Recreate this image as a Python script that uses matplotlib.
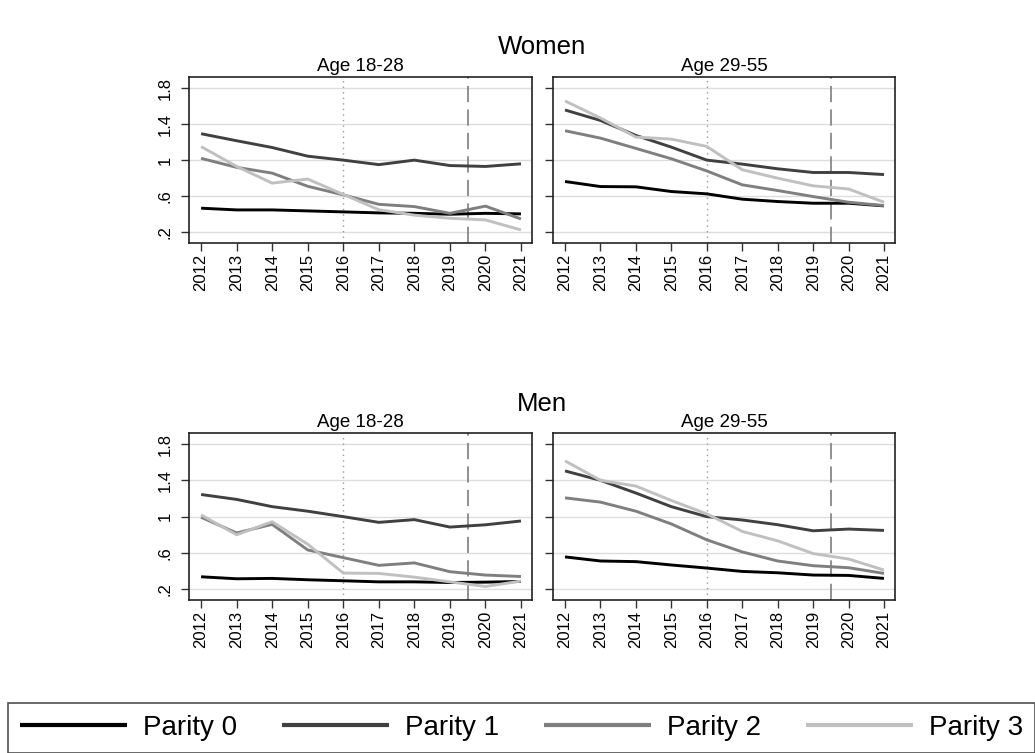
import matplotlib
matplotlib.use("Agg")
import matplotlib.pyplot as plt
import numpy as np

plt.rcParams['font.family'] = ['Liberation Sans', 'DejaVu Sans']

years = np.arange(2012, 2022)
parities = ['Parity 0', 'Parity 1', 'Parity 2', 'Parity 3']
colors = ['#000000', '#404040', '#7f7f7f', '#c0c0c0']

# women, age 18-28
w_young = [
    [0.467, 0.448, 0.448, 0.437, 0.426, 0.415, 0.410, 0.400, 0.410, 0.404],
    [1.293, 1.215, 1.140, 1.044, 1.000, 0.950, 1.000, 0.940, 0.930, 0.959],
    [1.020, 0.920, 0.856, 0.710, 0.615, 0.510, 0.485, 0.410, 0.490, 0.348],
    [1.150, 0.930, 0.745, 0.790, 0.620, 0.450, 0.390, 0.355, 0.337, 0.226],
]
# women, age 29-55
w_old = [
    [0.763, 0.707, 0.704, 0.652, 0.626, 0.567, 0.541, 0.522, 0.522, 0.493],
    [1.556, 1.440, 1.274, 1.144, 1.000, 0.956, 0.904, 0.863, 0.863, 0.840],
    [1.326, 1.244, 1.130, 1.015, 0.880, 0.726, 0.663, 0.596, 0.533, 0.496],
    [1.656, 1.467, 1.256, 1.233, 1.152, 0.893, 0.800, 0.715, 0.680, 0.533],
]
# men, age 18-28
m_young = [
    [0.337, 0.315, 0.319, 0.304, 0.293, 0.281, 0.281, 0.274, 0.278, 0.285],
    [1.244, 1.190, 1.110, 1.060, 1.000, 0.937, 0.967, 0.885, 0.910, 0.952],
    [0.993, 0.820, 0.915, 0.633, 0.548, 0.463, 0.490, 0.393, 0.356, 0.340],
    [1.019, 0.800, 0.944, 0.696, 0.378, 0.374, 0.333, 0.281, 0.230, 0.290],
]
# men, age 29-55
m_old = [
    [0.556, 0.511, 0.504, 0.467, 0.433, 0.396, 0.381, 0.356, 0.352, 0.319],
    [1.504, 1.400, 1.260, 1.110, 1.000, 0.963, 0.911, 0.844, 0.863, 0.848],
    [1.207, 1.160, 1.060, 0.919, 0.744, 0.611, 0.511, 0.459, 0.437, 0.374],
    [1.615, 1.400, 1.337, 1.178, 1.030, 0.837, 0.733, 0.593, 0.533, 0.411],
]

yticks = [0.2, 0.6, 1.0, 1.4, 1.8]
ytick_labels = ['.2', '.6', '1', '1.4', '1.8']

W, H = 1035, 753
fig = plt.figure(figsize=(W / 100, H / 100), dpi=100)


def px_axes(x0, y0, x1, y1):
    # pixel box (top-left origin) -> figure axes
    return fig.add_axes([x0 / W, 1 - y1 / H, (x1 - x0) / W, (y1 - y0) / H])


def panel(ax, data, title, show_ylabels):
    for vals, c in zip(data, colors):
        ax.plot(years, vals, color=c, lw=2.1, solid_capstyle='butt', zorder=3)
    for yt in yticks:
        ax.axhline(yt, color='#dddddd', lw=1.0, zorder=1)
    ax.axvline(2016, color='#999999', lw=1.0, ls=(0, (1, 3)), zorder=2)
    ax.axvline(2019.5, color='#888888', lw=1.3, ls=(0, (9, 4)), zorder=2)
    ax.set_xlim(2011.66, 2021.31)
    ax.set_ylim(0.081, 1.922)
    ax.set_xticks(years)
    ax.set_xticklabels([str(y) for y in years], rotation=90, fontsize=12)
    ax.set_yticks(yticks)
    if show_ylabels:
        ax.set_yticklabels(ytick_labels, rotation=90, va='center', fontsize=12)
    else:
        ax.set_yticklabels([])
    ax.tick_params(axis='x', length=6, width=1, color='#333333', pad=2)
    ax.tick_params(axis='y', length=6, width=1, color='#333333', pad=6)
    for s in ax.spines.values():
        s.set_linewidth(1.2)
        s.set_color('#222222')
    ax.set_title(title, fontsize=13.5, pad=4)
    return ax


a1 = panel(px_axes(189, 77, 532, 243), w_young, 'Age 18-28', True)
a2 = panel(px_axes(553, 77, 895, 243), w_old, 'Age 29-55', False)
a3 = panel(px_axes(189, 433, 532, 600), m_young, 'Age 18-28', True)
a4 = panel(px_axes(553, 433, 895, 600), m_old, 'Age 29-55', False)

fig.text(542 / W, 1 - 47 / H, 'Women', ha='center', va='center', fontsize=18.5)
fig.text(542 / W, 1 - 404 / H, 'Men', ha='center', va='center', fontsize=18.5)

handles = a1.get_lines()[:4]
leg = fig.legend(handles, parities, loc='upper left', ncol=4,
                 bbox_to_anchor=(8 / W, 1 - 703 / H),
                 fontsize=20, handlelength=3.85, handletextpad=0.58,
                 frameon=True, fancybox=False, borderaxespad=0,
                 borderpad=0.43, columnspacing=1.62)
leg.get_frame().set_edgecolor('#222222')
leg.get_frame().set_linewidth(1.2)
for ln in leg.get_lines():
    ln.set_linewidth(3.0)

fig.savefig('out.png', dpi=100)
